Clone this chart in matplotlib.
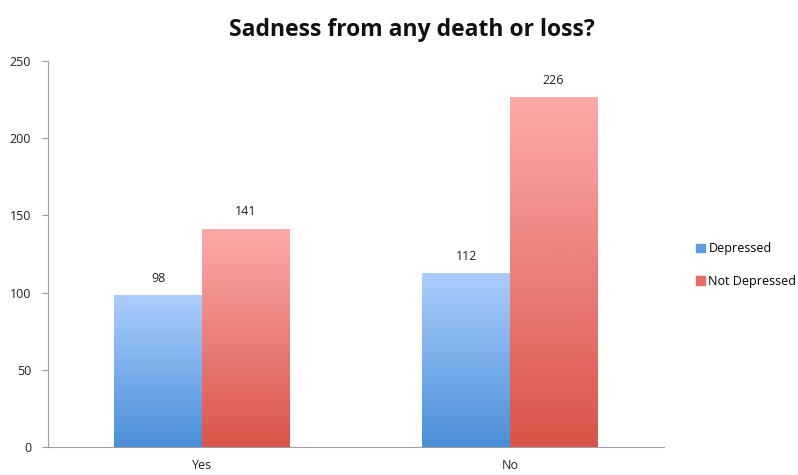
import matplotlib.pyplot as plt
import numpy as np
from matplotlib.colors import LinearSegmentedColormap
from matplotlib.patches import Rectangle

# данные
categories = ['Yes', 'No']
series_names = ['Depressed', 'Not Depressed']
depressed = [98, 112]
not_depressed = [141, 226]

plt.rcParams['font.family'] = ['Open Sans', 'DejaVu Sans']

# градиенты: сверху светлее, снизу темнее
cmaps = [
    LinearSegmentedColormap.from_list('blue', ['#4a8fd8', '#abcdfd']),
    LinearSegmentedColormap.from_list('red', ['#da5448', '#fcaaaa']),
]
legend_colors = ['#5b9be0', '#e86b66']

fig = plt.figure(figsize=(7.98, 4.75), dpi=100)
ax = fig.add_axes([0.060, 0.059, 0.772, 0.813])

width = 0.284
x = np.arange(len(categories))
grad = np.linspace(0, 1, 256).reshape(-1, 1)

for s, vals in enumerate([depressed, not_depressed]):
    for i, v in enumerate(vals):
        x0 = x[i] - width + s * width
        ax.imshow(grad, extent=[x0, x0 + width, 0, v], origin='lower',
                  aspect='auto', cmap=cmaps[s], zorder=2)
        ax.text(x0 + width / 2, v + 7, str(v), ha='center', va='bottom',
                fontsize=9, color='#222222')

ax.set_xlim(-0.5, 1.5)
ax.set_ylim(0, 250)
ax.set_yticks(range(0, 251, 50))
ax.set_xticks(x)
ax.set_xticklabels(categories)
ax.tick_params(axis='both', labelsize=9, colors='#999999', labelcolor='#222222', length=4)
ax.tick_params(axis='y', pad=8)
ax.tick_params(axis='x', length=0, pad=9)
for side in ['top', 'right']:
    ax.spines[side].set_visible(False)
for side in ['left', 'bottom']:
    ax.spines[side].set_color('#a0a0a0')

# легенда
handles = [Rectangle((0, 0), 1, 1, color=c) for c in legend_colors]
fig.legend(handles, series_names, loc='center left', bbox_to_anchor=(0.858, 0.442),
           frameon=False, fontsize=9, handlelength=0.7, handleheight=0.7,
           handletextpad=0.3, labelspacing=1.55)

fig.text(0.516, 0.937, 'Sadness from any death or loss?', ha='center', va='center',
         fontsize=16.5, fontweight='bold', color='#111111')

fig.savefig('out.png', dpi=100)
